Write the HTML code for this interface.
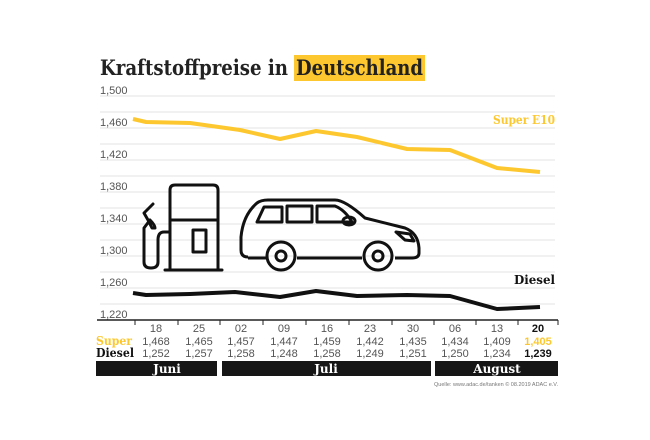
<!DOCTYPE html>
<html><head><meta charset="utf-8"><style>
html,body{margin:0;padding:0;background:#fff;width:650px;height:440px;overflow:hidden}
svg{display:block}
.t{font-family:"Liberation Sans",sans-serif;font-size:11px;fill:#555}
.d{font-family:"Liberation Sans",sans-serif;font-size:11px;fill:#555;text-anchor:middle}
.s{font-family:"DejaVu Serif","Liberation Serif",serif;font-weight:bold}
</style></head><body>
<svg width="650" height="440" viewBox="0 0 650 440">
<rect x="294" y="55" width="131" height="26" fill="#fdc82f"/>
<text x="100" y="75" class="s" font-size="21" fill="#222" textLength="188" lengthAdjust="spacingAndGlyphs">Kraftstoffpreise in</text>
<text x="296" y="75" class="s" font-size="21" fill="#222" textLength="127" lengthAdjust="spacingAndGlyphs">Deutschland</text>
<g stroke="#e3e3e3" stroke-width="1">
<line x1="100" y1="96" x2="555" y2="96"/><line x1="100" y1="112" x2="555" y2="112"/>
<line x1="100" y1="128" x2="555" y2="128"/><line x1="100" y1="144" x2="555" y2="144"/>
<line x1="100" y1="160" x2="555" y2="160"/><line x1="100" y1="176" x2="555" y2="176"/>
<line x1="100" y1="192" x2="555" y2="192"/><line x1="100" y1="208" x2="555" y2="208"/>
<line x1="100" y1="224" x2="555" y2="224"/><line x1="100" y1="240" x2="555" y2="240"/>
<line x1="100" y1="256" x2="555" y2="256"/><line x1="100" y1="272" x2="555" y2="272"/>
<line x1="100" y1="288" x2="555" y2="288"/><line x1="100" y1="304" x2="555" y2="304"/>
</g>
<g class="t">
<text x="100" y="94">1,500</text><text x="100" y="126">1,460</text><text x="100" y="158">1,420</text>
<text x="100" y="190">1,380</text><text x="100" y="222">1,340</text><text x="100" y="254">1,300</text>
<text x="100" y="286">1,260</text><text x="100" y="318">1,220</text>
</g>
<line x1="97" y1="320" x2="558" y2="320" stroke="#222" stroke-width="1.5"/>
<g stroke="#222" stroke-width="1">
<line x1="135" y1="320" x2="135" y2="325"/><line x1="178" y1="320" x2="178" y2="325"/>
<line x1="220" y1="320" x2="220" y2="325"/><line x1="263" y1="320" x2="263" y2="325"/>
<line x1="306" y1="320" x2="306" y2="325"/><line x1="349" y1="320" x2="349" y2="325"/>
<line x1="392" y1="320" x2="392" y2="325"/><line x1="434" y1="320" x2="434" y2="325"/>
<line x1="476" y1="320" x2="476" y2="325"/><line x1="518" y1="320" x2="518" y2="325"/>
<line x1="558" y1="320" x2="558" y2="325"/>
</g>
<polyline fill="none" stroke="#fdc82f" stroke-width="4" stroke-linejoin="round" points="133,119 146,122 190,123 240,130 280,139 316,131 357,137 407,149 450,150 497,168 540,172"/>
<polyline fill="none" stroke="#111" stroke-width="4" stroke-linejoin="round" points="133,293 146,295 190,294 235,292 280,297 316,291 357,296 407,295 450,296 497,309 540,307"/>
<text x="555" y="124" text-anchor="end" class="s" font-size="12" fill="#fdc82f" textLength="62" lengthAdjust="spacingAndGlyphs">Super E10</text>
<text x="555" y="284" text-anchor="end" class="s" font-size="12" fill="#111" textLength="41" lengthAdjust="spacingAndGlyphs">Diesel</text>
<g fill="none" stroke="#111" stroke-width="3" stroke-linejoin="round" stroke-linecap="round">
<path d="M170,270 V190 Q170,185 175,185 H213 Q218,185 218,190 V270"/>
<line x1="165" y1="270" x2="222" y2="270"/>
<line x1="170" y1="220" x2="218" y2="220"/>
<rect x="193" y="230" width="13" height="22"/>
<path d="M170,232 H164 Q158,232 158,240 V262 Q158,268 151,268 Q144,268 144,262 V228 L150,220 Q155,225 155,228 L152,228 L148,220 L144,213 L153,204"/>
</g>
<g fill="none" stroke="#111" stroke-width="3" stroke-linejoin="round">
<path d="M248,257 Q241,257 241,250 V237 Q243,215 257,203 Q261,200 268,200 H335 Q345,200 365,218 L405,228 Q418,233 419,248 V253 Q419,258 412,258 H395 M362,258 H297 M266,258 H248"/>
<path d="M257,222 L264,207 H282 V222 Z"/><rect x="287" y="206" width="25" height="16"/><path d="M317,206 H335 Q345,210 352,222 H317 Z"/>
<ellipse cx="349" cy="221" rx="6" ry="4"/>
<path d="M396,232 L410,234 L414,241 L405,240 Z"/>
<circle cx="281" cy="256" r="14"/><circle cx="281" cy="256" r="5"/>
<circle cx="378" cy="256" r="14"/><circle cx="378" cy="256" r="5"/>
</g>
<g class="d">
<text x="156" y="332">18</text><text x="199" y="332">25</text><text x="241" y="332">02</text><text x="284" y="332">09</text><text x="327" y="332">16</text><text x="370" y="332">23</text><text x="413" y="332">30</text><text x="455" y="332">06</text><text x="497" y="332">13</text><text x="538" y="332" font-weight="bold" fill="#111">20</text>
<text x="156" y="345">1,468</text><text x="199" y="345">1,465</text><text x="241" y="345">1,457</text><text x="284" y="345">1,447</text><text x="327" y="345">1,459</text><text x="370" y="345">1,442</text><text x="413" y="345">1,435</text><text x="455" y="345">1,434</text><text x="497" y="345">1,409</text><text x="538" y="345" font-weight="bold" fill="#fdc82f">1,405</text>
<text x="156" y="357">1,252</text><text x="199" y="357">1,257</text><text x="241" y="357">1,258</text><text x="284" y="357">1,248</text><text x="327" y="357">1,258</text><text x="370" y="357">1,249</text><text x="413" y="357">1,251</text><text x="455" y="357">1,250</text><text x="497" y="357">1,234</text><text x="538" y="357" font-weight="bold" fill="#111">1,239</text>
</g>
<text x="96" y="345" class="s" font-size="12" fill="#fdc82f" textLength="36" lengthAdjust="spacingAndGlyphs">Super</text>
<text x="96" y="357" class="s" font-size="12" fill="#111" textLength="38" lengthAdjust="spacingAndGlyphs">Diesel</text>
<rect x="96" y="361" width="121" height="15" fill="#161616"/>
<rect x="222" y="361" width="209" height="15" fill="#161616"/>
<rect x="435" y="361" width="123" height="15" fill="#161616"/>
<g class="s" font-size="12" fill="#fff" text-anchor="middle">
<text x="167" y="373">Juni</text><text x="326" y="373">Juli</text><text x="497" y="373">August</text>
</g>
<text x="558" y="386" text-anchor="end" font-family="Liberation Sans,sans-serif" font-size="5.5" fill="#777">Quelle: www.adac.de/tanken   © 08.2019  ADAC e.V.</text>
</svg>
</body></html>
